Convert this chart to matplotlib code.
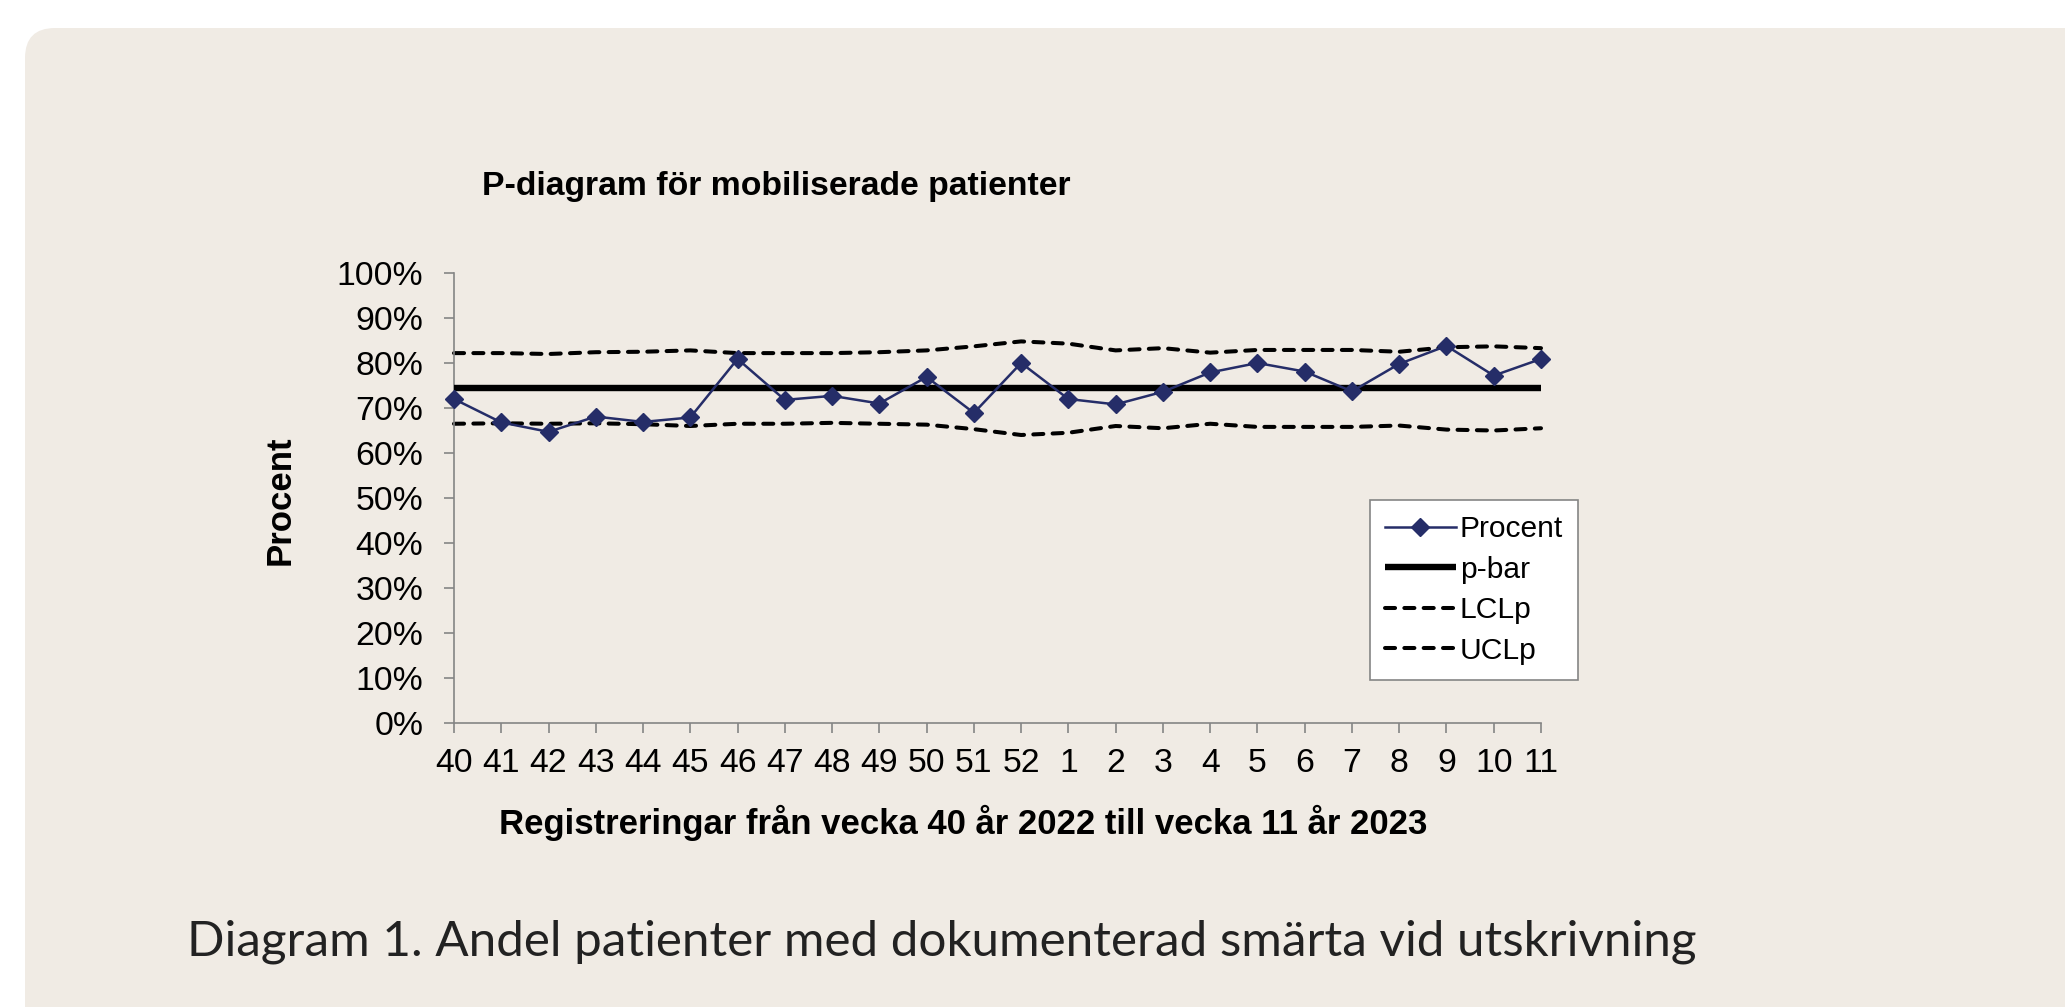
import numpy as np
import matplotlib.pyplot as plt
from matplotlib.patches import FancyBboxPatch


# --- Data ---
weeks = ["40", "41", "42", "43", "44", "45", "46", "47", "48", "49", "50", "51", "52",
         "1", "2", "3", "4", "5", "6", "7", "8", "9", "10", "11"]
procent = [72.0, 66.8, 64.7, 68.1, 66.9, 67.9, 80.9, 71.8, 72.7, 71.0, 76.9, 68.9, 80.0,
           72.0, 70.8, 73.6, 77.9, 80.0, 78.1, 73.7, 79.8, 83.8, 77.2, 80.9]
p_bar = 74.4
lcl = [66.5, 66.6, 66.5, 66.6, 66.4, 66.0, 66.5, 66.5, 66.7, 66.5, 66.3, 65.3, 64.0,
       64.5, 66.0, 65.5, 66.5, 65.8, 65.8, 65.8, 66.1, 65.2, 65.0, 65.5]
ucl = [82.2, 82.2, 82.0, 82.4, 82.5, 82.8, 82.2, 82.2, 82.2, 82.4, 82.8, 83.7, 84.8,
       84.3, 82.8, 83.3, 82.3, 82.9, 82.9, 82.9, 82.5, 83.5, 83.7, 83.3]
y_ticks = [0, 10, 20, 30, 40, 50, 60, 70, 80, 90, 100]

title = "P-diagram för mobiliserade patienter"
x_label = "Registreringar från vecka 40 år 2022 till vecka 11 år 2023"
y_label = "Procent"
caption = "Diagram 1. Andel patienter med dokumenterad smärta vid utskrivning"

W, H = 2065, 1007
navy = "#252d68"
axis_gray = "#858585"

plt.rcParams["font.family"] = ["Liberation Sans", "DejaVu Sans"]

fig = plt.figure(figsize=(W / 100, H / 100), dpi=100)
fig.patch.set_facecolor("white")

# rounded card background
card = FancyBboxPatch((0.25, -0.5), 21.0, 10.29,
                      boxstyle="round,pad=0,rounding_size=0.3",
                      transform=fig.dpi_scale_trans, facecolor="#f0ebe4",
                      edgecolor="none", zorder=-10)
fig.patches.append(card)

# --- Axes ---
left, right, top, bottom = 454, 1541, 273, 723
ax = fig.add_axes([left / W, 1 - bottom / H, (right - left) / W, (bottom - top) / H])
ax.set_facecolor("none")

x = np.arange(len(weeks))
dash_kw = dict(color="black", lw=2.9, dashes=(2.5, 2.3), dash_capstyle="round")

ax.plot(x, procent, color=navy, lw=1.8, marker="D", markersize=9,
        markerfacecolor=navy, markeredgecolor=navy, label="Procent", zorder=4)
ax.plot(x, [p_bar] * len(x), color="black", lw=4.6, solid_capstyle="butt",
        label="p-bar", zorder=3)
ax.plot(x, lcl, label="LCLp", zorder=2, **dash_kw)
ax.plot(x, ucl, label="UCLp", zorder=2, **dash_kw)

ax.set_xlim(0, len(weeks) - 1)
ax.set_ylim(0, 100)
ax.set_xticks(x)
ax.set_xticklabels(weeks)
ax.set_yticks(y_ticks)
ax.set_yticklabels([f"{t}%" for t in y_ticks])
ax.tick_params(axis="both", labelsize=24.3, colors=axis_gray, labelcolor="black",
               length=7, width=1.2, direction="out")
ax.tick_params(axis="x", pad=11)
ax.tick_params(axis="y", pad=15)

for side in ["top", "right"]:
    ax.spines[side].set_visible(False)
for side in ["left", "bottom"]:
    ax.spines[side].set_color(axis_gray)
    ax.spines[side].set_linewidth(1.2)
for ln in ax.lines:
    ln.set_clip_on(False)

leg = ax.legend(loc="upper left", bbox_to_anchor=(1370 / W, 1 - 500 / H),
                bbox_transform=fig.transFigure, fontsize=21.6, frameon=True,
                fancybox=False, framealpha=1, edgecolor=axis_gray, numpoints=1,
                handlelength=2.35, handletextpad=0.15, labelspacing=0.42,
                borderpad=0.5, borderaxespad=0)
leg.get_frame().set_linewidth(1.2)

# --- Texts ---
fig.text(776 / W, 1 - 187 / H, title, ha="center", va="center",
         fontsize=24.3, fontweight="bold")
fig.text(963 / W, 1 - 823 / H, x_label, ha="center", va="center",
         fontsize=25, fontweight="bold")
fig.text(280 / W, 1 - 500 / H, y_label, ha="center", va="center",
         fontsize=25, fontweight="bold", rotation=90)
fig.text(187 / W, 1 - 942 / H, caption, ha="left", va="center",
         fontsize=35.6, color="#222222", family=["Lato", "DejaVu Sans"])

fig.savefig("out.png", dpi=100)
